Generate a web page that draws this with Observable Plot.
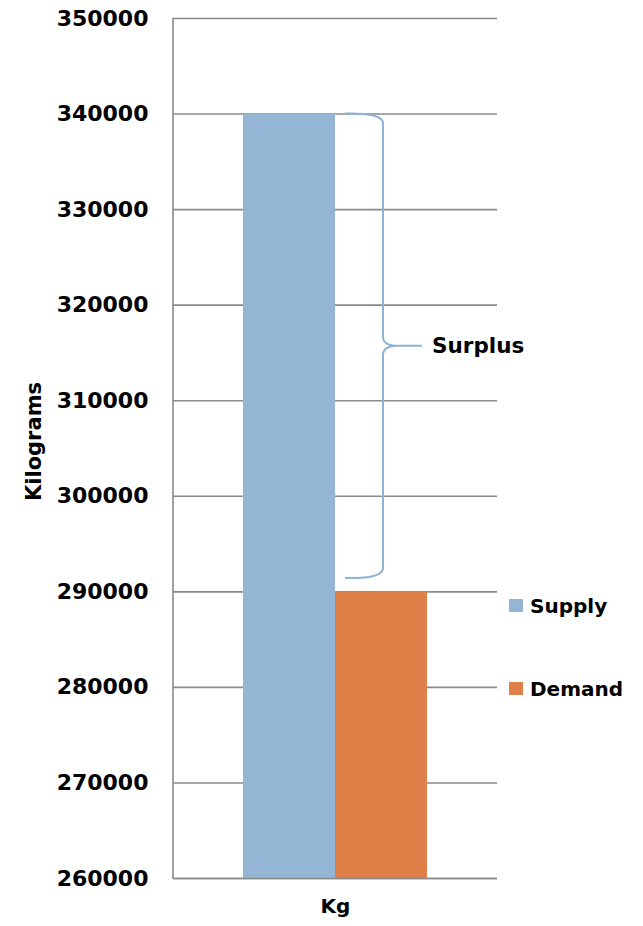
<!DOCTYPE html>
<html>
<head>
<meta charset="utf-8">
<script src="https://cdn.jsdelivr.net/npm/d3@7"></script>
<script src="https://cdn.jsdelivr.net/npm/@observablehq/plot@0.6"></script>
<style>
  html, body { margin: 0; padding: 0; background: #fff; }
  #chart svg { display: block; }
</style>
</head>
<body>
<div id="chart"></div>
<script>
const series = ["Supply", "Demand"];
const values = [340000, 290000];
const colors = ["#95B5D4", "#DE8048"];
const yDomain = [260000, 350000];
const yTicks = [260000, 270000, 280000, 290000, 300000, 310000, 320000, 330000, 340000, 350000];
const category = "Kg";
const yLabel = "Kilograms";
const braceLabel = "Surplus";
const braceRange = [340000, 291400];

const data = series.map((s, i) => ({series: s, value: values[i], color: colors[i]}));
const FONT = "DejaVu Sans, sans-serif";
const AXIS = "#8A8A8A";

function leftAxisLine(index, scales, vals, dims) {
  const ns = "http://www.w3.org/2000/svg";
  const l = document.createElementNS(ns, "line");
  l.setAttribute("x1", dims.marginLeft);
  l.setAttribute("x2", dims.marginLeft);
  l.setAttribute("y1", scales.y(yDomain[1]));
  l.setAttribute("y2", scales.y(yDomain[0]) + 0.8);
  l.setAttribute("stroke", AXIS);
  l.setAttribute("stroke-width", "1.6");
  return l;
}

function annotations(index, scales, vals, dims) {
  const ns = "http://www.w3.org/2000/svg";
  const g = document.createElementNS(ns, "g");
  g.setAttribute("text-anchor", "start");
  const xs = scales.x;
  const y = scales.y;
  const bx = xs("Demand"); // left edge of demand bar
  const yt = y(braceRange[0]), yb = y(braceRange[1]);
  const ym = (yt + yb) / 2;
  const x0 = bx + 10, xv = bx + 48, xt = bx + 87;
  const path = document.createElementNS(ns, "path");
  path.setAttribute("d",
    `M${x0},${yt} Q${xv},${yt - 1} ${xv},${yt + 10} L${xv},${ym - 9} Q${xv},${ym} ${xv + 15},${ym} L${xt},${ym} ` +
    `M${xv + 15},${ym} Q${xv},${ym} ${xv},${ym + 9} L${xv},${yb - 10} Q${xv},${yb + 1} ${x0},${yb}`);
  path.setAttribute("fill", "none");
  path.setAttribute("stroke", "#8DB3D5");
  path.setAttribute("stroke-width", "2");
  g.appendChild(path);
  const t = document.createElementNS(ns, "text");
  t.setAttribute("x", xt + 10);
  t.setAttribute("y", ym);
  t.setAttribute("dy", "0.35em");
  t.setAttribute("font-family", FONT);
  t.setAttribute("font-weight", "bold");
  t.setAttribute("font-size", "21.5");
  t.setAttribute("fill", "#000");
  t.textContent = braceLabel;
  g.appendChild(t);
  // legend
  const lx = dims.width - dims.marginRight + 12;
  const ly = [606, 689];
  series.forEach((s, i) => {
    const r = document.createElementNS(ns, "rect");
    r.setAttribute("x", lx);
    r.setAttribute("y", ly[i] - 7);
    r.setAttribute("width", 14);
    r.setAttribute("height", 13);
    r.setAttribute("fill", colors[i]);
    g.appendChild(r);
    const tt = document.createElementNS(ns, "text");
    tt.setAttribute("x", lx + 21);
    tt.setAttribute("y", ly[i]);
    tt.setAttribute("dy", "0.36em");
    tt.setAttribute("font-family", FONT);
    tt.setAttribute("font-weight", "bold");
    tt.setAttribute("font-size", "20");
    tt.setAttribute("fill", "#000");
    tt.textContent = s;
    g.appendChild(tt);
  });
  return g;
}

const chart = Plot.plot({
  width: 643,
  height: 926,
  marginLeft: 173,
  marginRight: 146,
  marginTop: 18,
  marginBottom: 48,
  style: {fontFamily: FONT, background: "#fff"},
  x: {domain: series, paddingInner: 0, paddingOuter: 0.75, axis: null},
  y: {domain: yDomain, ticks: yTicks, axis: null},
  marks: [
    Plot.gridY(yTicks, {stroke: AXIS, strokeOpacity: 1, strokeWidth: 1.6}),
    Plot.rectY(data, {x: "series", y1: yDomain[0], y2: "value", fill: "color"}),
    leftAxisLine,
    Plot.ruleY([yDomain[0]], {stroke: AXIS, strokeWidth: 1.6}),
    Plot.axisY(yTicks, {tickSize: 0, tickPadding: 25, fontSize: 22, fontWeight: "bold", fill: "#000", label: null, tickFormat: d => String(d)}),
    Plot.text([yLabel], {frameAnchor: "left", textAnchor: "middle", rotate: -90, dx: -139, dy: -7, fontSize: 21, fontWeight: "bold", fill: "#000"}),
    Plot.text([category], {frameAnchor: "bottom", dy: 34, fontSize: 20, fontWeight: "bold", fill: "#000"}),
    annotations
  ]
});
document.getElementById("chart").appendChild(chart);
</script>
</body>
</html>
